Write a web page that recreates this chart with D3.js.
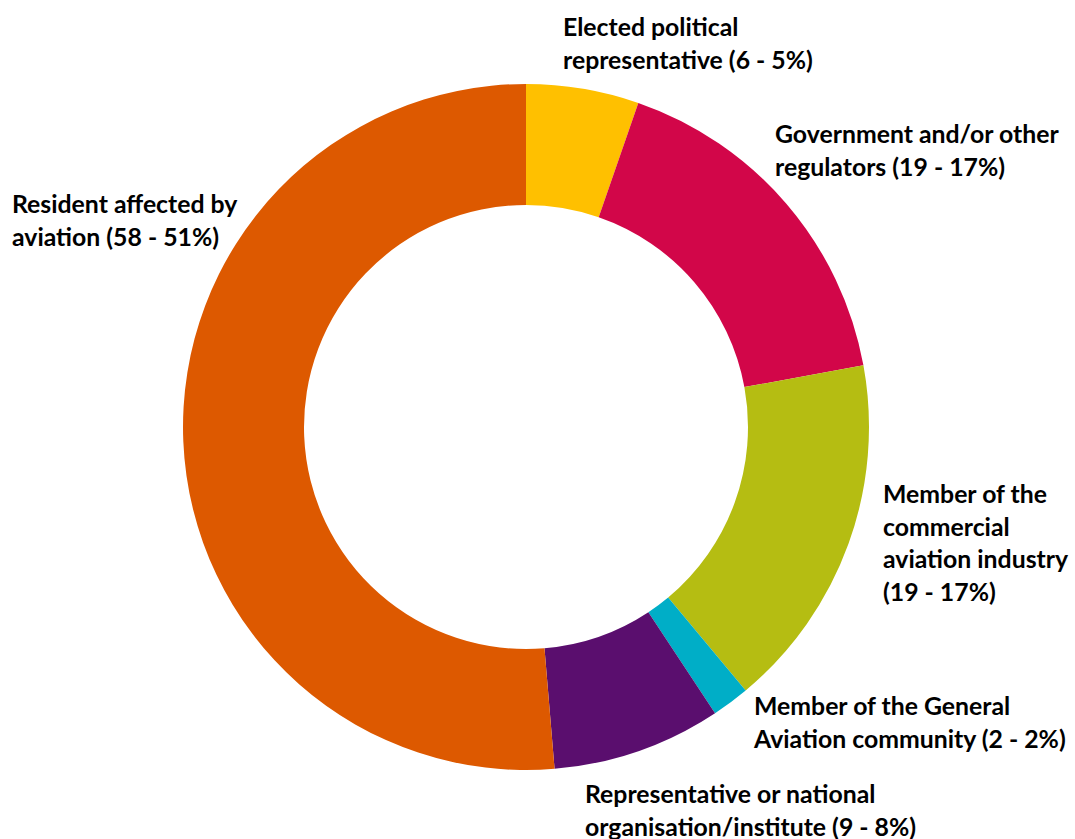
<!DOCTYPE html>
<html>
<head>
<meta charset="utf-8">
<script src="https://cdn.jsdelivr.net/npm/d3@7"></script>
<style>
  html, body { margin: 0; padding: 0; background: #fff; }
  svg { display: block; }
  .lbl { font-family: "Lato", "Open Sans", sans-serif; font-weight: 700; font-size: 24.8px; fill: #000; }
</style>
</head>
<body>
<svg id="chart" width="1075" height="839"></svg>
<script>
// Respondent groups, clockwise from 12 o'clock
const categories = [
  "Elected political representative",
  "Government and/or other regulators",
  "Member of the commercial aviation industry",
  "Member of the General Aviation community",
  "Representative or national organisation/institute",
  "Resident affected by aviation"
];
const counts = [6, 19, 19, 2, 9, 58];

// How each label's name is broken across lines (the count/percent is appended to the last line)
const labelLines = [
  ["Elected political", "representative"],
  ["Government and/or other", "regulators"],
  ["Member of the", "commercial", "aviation industry", ""],
  ["Member of the General", "Aviation community"],
  ["Representative or national", "organisation/institute"],
  ["Resident affected by", "aviation"]
];

const colors = ["#FFC000", "#D20649", "#B5BD12", "#00AEC7", "#5A0E6E", "#DD5900"];

// Label anchors: left x and first baseline
const labelPos = [
  { x: 563, y: 36 },
  { x: 775, y: 143 },
  { x: 883, y: 503 },
  { x: 754, y: 715 },
  { x: 585, y: 803 },
  { x: 12,  y: 213 }
];

const width = 1075, height = 839;
const cx = 526, cy = 427;
const outerR = 343, innerR = 222;
const lineH = 32.5;

const svg = d3.select("#chart");
const total = d3.sum(counts);

const data = categories.map((c, i) => ({ name: c, value: counts[i], color: colors[i], lines: labelLines[i], pos: labelPos[i] }));

const pie = d3.pie().value(d => d.value).sort(null);
const arc = d3.arc().innerRadius(innerR).outerRadius(outerR);

const g = svg.append("g").attr("transform", `translate(${cx},${cy})`);
g.selectAll("path")
  .data(pie(data))
  .join("path")
  .attr("d", arc)
  .attr("fill", d => d.data.color);

// Labels
const labels = svg.selectAll("text.lbl")
  .data(data)
  .join("text")
  .attr("class", "lbl")
  .attr("x", d => d.pos.x)
  .attr("y", d => d.pos.y);

labels.each(function(d) {
  const t = d3.select(this);
  const pct = Math.round(d.value / total * 100);
  const suffix = `(${d.value} - ${pct}%)`;
  d.lines.forEach((ln, i) => {
    const last = i === d.lines.length - 1;
    const txt = last ? (ln ? ln + " " + suffix : suffix) : ln;
    t.append("tspan")
      .attr("x", d.pos.x)
      .attr("dy", i === 0 ? 0 : lineH)
      .text(txt);
  });
});
</script>
</body>
</html>
